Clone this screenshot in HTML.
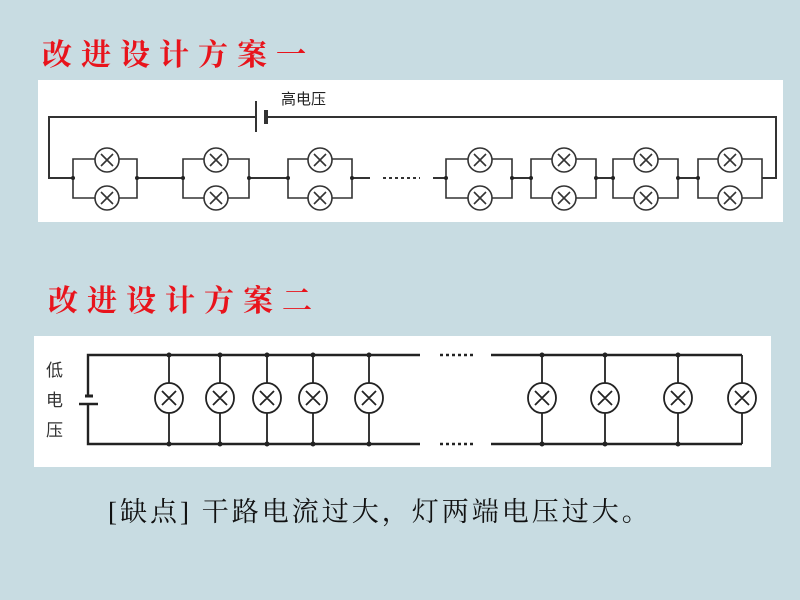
<!DOCTYPE html>
<html><head><meta charset="utf-8"><style>
html,body{margin:0;padding:0;}
body{width:800px;height:600px;background:#c8dce2;position:relative;overflow:hidden;font-family:"Liberation Serif","Noto Serif CJK SC",serif;}
.t{position:absolute;color:#e8141c;font-weight:bold;font-size:30px;letter-spacing:9px;font-family:"Noto Serif CJK SC","WenQuanYi Zen Hei",serif;line-height:1;}
.b{position:absolute;left:108px;top:499px;font-size:27px;letter-spacing:3px;color:#111;line-height:1;font-family:"Liberation Serif","Noto Serif CJK SC",serif;}
</style></head><body>
<div class="t" style="left:42px;top:37px;">改进设计方案一</div>
<div class="t" style="left:48px;top:283px;">改进设计方案二</div>
<svg width="800" height="600" style="position:absolute;left:0;top:0">
<rect x="38" y="80" width="745" height="142" fill="#fff"/>
<rect x="34" y="336" width="737" height="131" fill="#fff"/>
<g stroke="#333" stroke-width="2" fill="none">
<polyline points="256,117 49,117 49,178 73,178"/>
<polyline points="268,117 776,117 776,178 762,178"/>
<line x1="256" y1="101" x2="256" y2="132"/>
<line x1="266" y1="110" x2="266" y2="124" stroke-width="4"/>
<line x1="137" y1="178" x2="183" y2="178"/>
<line x1="249" y1="178" x2="288" y2="178"/>
<line x1="352" y1="178" x2="370" y2="178"/>
<line x1="433" y1="178" x2="446" y2="178"/>
<line x1="512" y1="178" x2="531" y2="178"/>
<line x1="596" y1="178" x2="613" y2="178"/>
<line x1="678" y1="178" x2="698" y2="178"/>
<line x1="383" y1="178" x2="420" y2="178" stroke-dasharray="3,3"/>
</g>
<g stroke="#333" stroke-width="1.6" fill="none">
<path d="M73,159 H137 V198 H73 Z M183,159 H249 V198 H183 Z M288,159 H352 V198 H288 Z M446,159 H512 V198 H446 Z M531,159 H596 V198 H531 Z M613,159 H678 V198 H613 Z M698,159 H762 V198 H698 Z"/>
</g>
<g stroke="#333" stroke-width="1.6" fill="#fff">
<circle cx="107" cy="160" r="12"/><circle cx="107" cy="198" r="12"/>
<circle cx="216" cy="160" r="12"/><circle cx="216" cy="198" r="12"/>
<circle cx="320" cy="160" r="12"/><circle cx="320" cy="198" r="12"/>
<circle cx="480" cy="160" r="12"/><circle cx="480" cy="198" r="12"/>
<circle cx="564" cy="160" r="12"/><circle cx="564" cy="198" r="12"/>
<circle cx="646" cy="160" r="12"/><circle cx="646" cy="198" r="12"/>
<circle cx="730" cy="160" r="12"/><circle cx="730" cy="198" r="12"/>
</g>
<g stroke="#333" stroke-width="1.6">
<path d="M101,154l12,12M113,154l-12,12 M101,192l12,12M113,192l-12,12
M210,154l12,12M222,154l-12,12 M210,192l12,12M222,192l-12,12
M314,154l12,12M326,154l-12,12 M314,192l12,12M326,192l-12,12
M474,154l12,12M486,154l-12,12 M474,192l12,12M486,192l-12,12
M558,154l12,12M570,154l-12,12 M558,192l12,12M570,192l-12,12
M640,154l12,12M652,154l-12,12 M640,192l12,12M652,192l-12,12
M724,154l12,12M736,154l-12,12 M724,192l12,12M736,192l-12,12"/>
</g>
<g fill="#222">
<circle cx="73" cy="178" r="2"/><circle cx="137" cy="178" r="2"/><circle cx="183" cy="178" r="2"/><circle cx="249" cy="178" r="2"/><circle cx="288" cy="178" r="2"/><circle cx="352" cy="178" r="2"/><circle cx="446" cy="178" r="2"/><circle cx="512" cy="178" r="2"/><circle cx="531" cy="178" r="2"/><circle cx="596" cy="178" r="2"/><circle cx="613" cy="178" r="2"/><circle cx="678" cy="178" r="2"/><circle cx="698" cy="178" r="2"/>
</g>
<text x="281" y="104" font-size="15" fill="#222" font-family="Noto Sans CJK SC, sans-serif">高电压</text>
<g stroke="#222" stroke-width="2.4" fill="none">
<polyline points="88,396 88,355 420,355"/>
<polyline points="88,404 88,444 420,444"/>
<line x1="491" y1="355" x2="742" y2="355"/>
<line x1="491" y1="444" x2="742" y2="444"/>
<line x1="742" y1="355" x2="742" y2="444" stroke-width="1.8"/>
<line x1="85" y1="396" x2="93" y2="396" stroke-width="3"/>
<line x1="79" y1="404" x2="98" y2="404"/>
<line x1="440" y1="355" x2="476" y2="355" stroke-dasharray="3,3"/>
<line x1="440" y1="444" x2="476" y2="444" stroke-dasharray="3,3"/>
</g>
<g stroke="#222" stroke-width="1.8" fill="#fff">
<line x1="169" y1="355" x2="169" y2="444"/><ellipse cx="169" cy="398" rx="14" ry="15"/>
<line x1="220" y1="355" x2="220" y2="444"/><ellipse cx="220" cy="398" rx="14" ry="15"/>
<line x1="267" y1="355" x2="267" y2="444"/><ellipse cx="267" cy="398" rx="14" ry="15"/>
<line x1="313" y1="355" x2="313" y2="444"/><ellipse cx="313" cy="398" rx="14" ry="15"/>
<line x1="369" y1="355" x2="369" y2="444"/><ellipse cx="369" cy="398" rx="14" ry="15"/>
<line x1="542" y1="355" x2="542" y2="444"/><ellipse cx="542" cy="398" rx="14" ry="15"/>
<line x1="605" y1="355" x2="605" y2="444"/><ellipse cx="605" cy="398" rx="14" ry="15"/>
<line x1="678" y1="355" x2="678" y2="444"/><ellipse cx="678" cy="398" rx="14" ry="15"/>
<ellipse cx="742" cy="398" rx="14" ry="15"/>
</g>
<g stroke="#222" stroke-width="1.8">
<path d="M162,391l14,14M176,391l-14,14 M213,391l14,14M227,391l-14,14 M260,391l14,14M274,391l-14,14 M306,391l14,14M320,391l-14,14 M362,391l14,14M376,391l-14,14 M535,391l14,14M549,391l-14,14 M598,391l14,14M612,391l-14,14 M671,391l14,14M685,391l-14,14 M735,391l14,14M749,391l-14,14"/>
</g>
<g fill="#222">
<circle cx="169" cy="355" r="2.5"/><circle cx="220" cy="355" r="2.5"/><circle cx="267" cy="355" r="2.5"/><circle cx="313" cy="355" r="2.5"/><circle cx="369" cy="355" r="2.5"/><circle cx="542" cy="355" r="2.5"/><circle cx="605" cy="355" r="2.5"/><circle cx="678" cy="355" r="2.5"/>
<circle cx="169" cy="444" r="2.5"/><circle cx="220" cy="444" r="2.5"/><circle cx="267" cy="444" r="2.5"/><circle cx="313" cy="444" r="2.5"/><circle cx="369" cy="444" r="2.5"/><circle cx="542" cy="444" r="2.5"/><circle cx="605" cy="444" r="2.5"/><circle cx="678" cy="444" r="2.5"/>
</g>
<g font-size="17" fill="#333" font-family="Noto Sans CJK SC, sans-serif">
<text x="46" y="376">低</text><text x="46" y="406">电</text><text x="46" y="436">压</text>
</g>
</svg>
<div class="b">[缺点] 干路电流过大，灯两端电压过大。</div>
</body></html>
